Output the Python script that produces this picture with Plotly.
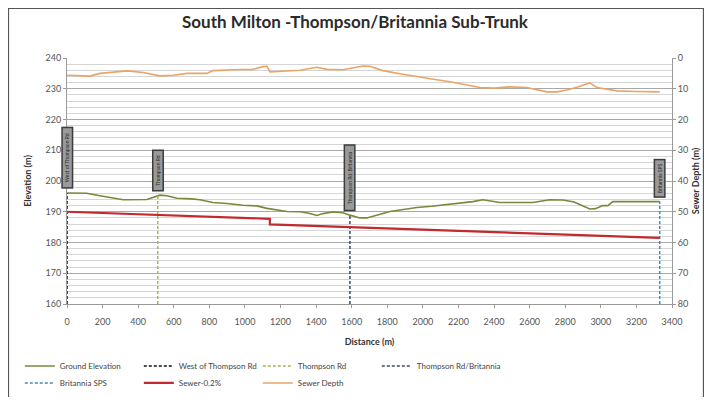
import plotly.graph_objects as go

# ---------------- data ----------------
ground_dist = [0, 110, 185, 250, 316, 449, 522, 562, 618, 700, 747, 820, 900, 989, 1067, 1124,
               1180, 1236, 1309, 1360, 1404, 1438, 1494, 1551, 1590, 1646, 1685, 1740, 1815, 1900,
               1966, 2050, 2112, 2208, 2280, 2337, 2433, 2530, 2618, 2713, 2787, 2850, 2899, 2938,
               2970, 3011, 3040, 3067, 3150, 3250, 3331]
ground_elev = [196.1, 196.0, 195.2, 194.6, 193.9, 194.0, 195.4, 195.2, 194.4, 194.2, 193.9, 193.0,
               192.7, 192.1, 191.9, 191.1, 190.6, 190.1, 190.0, 189.5, 188.8, 189.4, 189.9, 189.7,
               188.9, 188.0, 188.0, 188.8, 190.1, 190.8, 191.4, 191.8, 192.2, 192.9, 193.3, 193.9,
               193.0, 193.0, 193.0, 193.9, 193.8, 193.2, 192.0, 190.9, 191.0, 192.0, 192.0, 193.3,
               193.3, 193.3, 193.3]

sewer_dist = [0, 1140, 1140, 3331]
sewer_elev = [190.0, 187.7, 185.9, 181.5]

depth_dist = [0, 129, 185, 260, 337, 427, 522, 596, 674, 787, 820, 933, 1045, 1101, 1124, 1140,
              1213, 1309, 1404, 1461, 1551, 1629, 1663, 1702, 1775, 1870, 1966, 2060, 2152, 2240,
              2320, 2400, 2489, 2584, 2640, 2697, 2753, 2810, 2865, 2938, 2978, 3030, 3090, 3200, 3331]
depth_vals = [5.6, 5.9, 5.0, 4.6, 4.2, 4.7, 5.8, 5.6, 5.0, 5.0, 4.1, 3.8, 3.7, 2.8, 2.7, 4.5,
              4.3, 4.0, 3.0, 3.7, 3.8, 3.1, 2.6, 2.7, 4.1, 5.1, 6.1, 6.9, 7.7, 8.6,
              9.6, 9.8, 9.4, 9.6, 10.3, 11.0, 11.0, 10.4, 9.5, 8.1, 9.6, 10.0, 10.7, 10.9, 11.0]

marker_names = ["West of Thompson Rd", "Thompson Rd", "Thompson Rd/Britannia", "Britannia SPS"]
marker_dist = [0, 510, 1590, 3331]
marker_top = [196.0, 195.3, 189.0, 193.3]
marker_label_base = [197.5, 196.5, 190.3, 194.6]
marker_label_len = [63, 43, 68, 40]

x_ticks = list(range(0, 3401, 200))

# ---------------- figure ----------------
FONT = "Lato, 'Open Sans', sans-serif"
fig = go.Figure()

marker_colors = ["#111111", "#b0ad62", "#3b4a66", "#4a8aaa"]

fig.add_trace(go.Scatter(x=ground_dist, y=ground_elev, mode="lines", name="Ground Elevation",
                         line=dict(color="#77893c", width=1.6), legend="legend"))
for i, nm in enumerate(marker_names):
    fig.add_trace(go.Scatter(x=[marker_dist[i], marker_dist[i]], y=[160, marker_top[i]],
                             mode="lines", name=nm,
                             line=dict(color=marker_colors[i], width=1.5, dash="3px,2px"),
                             legend="legend" if i < 3 else "legend2",
                             legendwidth=110 if i == 2 else None))
fig.add_trace(go.Scatter(x=sewer_dist, y=sewer_elev, mode="lines", name="Sewer-0.2%",
                         line=dict(color="#c22a30", width=2.2), legend="legend2"))
fig.add_trace(go.Scatter(x=depth_dist, y=depth_vals, mode="lines", name="Sewer Depth",
                         line=dict(color="#eaa466", width=1.6), yaxis="y2", legend="legend2"))

for i, nm in enumerate(marker_names):
    fig.add_annotation(x=marker_dist[i], y=marker_label_base[i], xref="x", yref="y",
                       text=nm, textangle=-90, showarrow=False, yanchor="bottom",
                       xanchor="center", width=marker_label_len[i] - 6, height=7,
                       font=dict(family=FONT, size=5, color="#2a2a2a"),
                       bgcolor="#9a9a9a", bordercolor="#3c3c3c", borderwidth=1.5, borderpad=1)

axis_font = dict(family=FONT, size=9, color="#555555")
title_font = dict(family=FONT, size=9, color="#333333", weight="bold")
legend_font = dict(family=FONT, size=8, color="#444444")

# the page has an 8px body margin, so the figure is sized to fit inside the window
fig.update_layout(
    width=696, height=389,
    margin=dict(l=59, r=32, t=50, b=93, autoexpand=False),
    paper_bgcolor="white", plot_bgcolor="white",
    title=dict(text="South Milton -Thompson/Britannia Sub-Trunk", x=0.476, xanchor="center",
               xref="paper", y=0.964, yanchor="middle",
               font=dict(family=FONT, size=17, color="#2b2b2b", weight="bold")),
    xaxis=dict(range=[0, 3400], tickvals=x_ticks, showgrid=False, zeroline=False,
               showline=True, linecolor="#9a9a9a", linewidth=1, ticks="outside",
               ticklen=3, tickcolor="#9a9a9a", tickfont=axis_font, ticklabelstandoff=6,
               title=dict(text="Distance (m)", font=title_font, standoff=12)),
    yaxis=dict(range=[160, 240], dtick=10, showgrid=True, gridcolor="#a8a8a8", gridwidth=1,
               zeroline=False, showline=True, linecolor="#9a9a9a", ticks="outside", ticklen=3,
               tickcolor="#9a9a9a", tickfont=axis_font,
               minor=dict(dtick=2, showgrid=True, gridcolor="#d6d6d6", gridwidth=1),
               title=dict(text="Elevation (m)", font=title_font, standoff=12)),
    yaxis2=dict(range=[80, 0], dtick=10, overlaying="y", side="right", showgrid=False,
                zeroline=False, showline=True, linecolor="#9a9a9a", ticks="outside", ticklen=3,
                tickcolor="#9a9a9a", tickfont=axis_font,
                title=dict(text="Sewer Depth (m)", font=title_font, standoff=5)),
    legend=dict(orientation="h", x=-0.078, xanchor="left", y=-0.252, yanchor="middle",
                font=legend_font, itemwidth=30,
                entrywidth=74, bgcolor="rgba(0,0,0,0)", tracegroupgap=0),
    legend2=dict(orientation="h", x=-0.078, xanchor="left", y=-0.321, yanchor="middle",
                 font=legend_font, itemwidth=30,
                 entrywidth=74, bgcolor="rgba(0,0,0,0)", tracegroupgap=0),
    shapes=[dict(type="rect", xref="paper", yref="paper", x0=-0.0967, x1=1.052,
                 y0=-0.6, y1=1.2012, line=dict(color="#555555", width=1.2),
                 fillcolor="rgba(0,0,0,0)", layer="below")],
    showlegend=True,
)

fig.write_html("out.html")
